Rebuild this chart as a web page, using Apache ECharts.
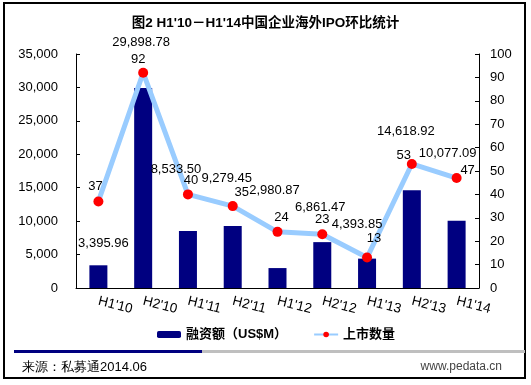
<!DOCTYPE html>
<html><head><meta charset="utf-8">
<script src="https://cdn.jsdelivr.net/npm/echarts@6/dist/echarts.min.js"></script>
<style>html,body{margin:0;padding:0;background:#fff}#c{width:531px;height:385px}</style>
</head><body><div id="c"></div>
<script>
const categories = ["H1'10","H2'10","H1'11","H2'11","H1'12","H2'12","H1'13","H2'13","H1'14"];
const amounts = [3395.96, 29898.78, 8533.50, 9279.45, 2980.87, 6861.47, 4393.85, 14618.92, 10077.09];
const counts = [37, 92, 40, 35, 24, 23, 13, 53, 47];
const seriesNames = ['融资额（US$M）', '上市数量'];
const titleText = "图2 H1'10－H1'14中国企业海外IPO环比统计";
const sourceText = '来源：私募通2014.06';
const siteText = 'www.pedata.cn';

// label placement tweaks (layout only)
const barLabelOffsets = [[5,-10],[-2,-34],[-12,-50],[-6,-36],[-3,-66],[-2,-23],[-10,-23],[-6,-47],[-9,-56]];
const lineLabelOffsets = [[-3,2],[-5,3],[3,3],[9,3],[4,2],[0,2],[7,-3],[-8,8],[11,9]];

const FONT = "'Liberation Sans', Arial, 'Noto Sans CJK SC', sans-serif";
const fmt = v => v.toLocaleString('en-US', {minimumFractionDigits: 2, maximumFractionDigits: 2});

const chart = echarts.init(document.getElementById('c'), null, {renderer: 'canvas'});
chart.setOption({
  animation: false,
  backgroundColor: '#fff',
  textStyle: {fontFamily: FONT},
  title: {
    text: titleText, left: 'center', top: 12,
    textStyle: {fontSize: 13.5, fontWeight: 'bold', color: '#000', fontFamily: FONT}
  },
  legend: {
    left: 152, top: 323, itemWidth: 24, itemHeight: 7, itemGap: 26,
    textStyle: {fontSize: 13, fontWeight: 'bold', color: '#000', fontFamily: FONT},
    data: seriesNames
  },
  grid: {left: 76, right: 52, top: 54, bottom: 97},
  xAxis: {
    type: 'category', data: categories,
    axisLine: {lineStyle: {color: '#000', width: 1}},
    axisTick: {inside: true, length: 4, lineStyle: {color: '#000'}},
    axisLabel: {interval: 0, rotate: -14, margin: 13, fontSize: 13.5, color: '#000', fontFamily: FONT}
  },
  yAxis: [{
    type: 'value', min: 0, max: 35000, interval: 5000,
    axisLine: {show: true, lineStyle: {color: '#000'}},
    axisTick: {show: true, inside: true, length: 4, lineStyle: {color: '#000'}},
    splitLine: {show: false},
    axisLabel: {margin: 18, fontSize: 13, color: '#000', fontFamily: FONT,
      formatter: v => v.toLocaleString('en-US')}
  }, {
    type: 'value', min: 0, max: 100, interval: 10,
    axisLine: {show: true, lineStyle: {color: '#000'}},
    axisTick: {show: true, inside: true, length: 4, lineStyle: {color: '#000'}},
    splitLine: {show: false},
    axisLabel: {margin: 11, fontSize: 13, color: '#000', fontFamily: FONT}
  }],
  series: [{
    name: seriesNames[0], type: 'bar', barWidth: 18, yAxisIndex: 0,
    itemStyle: {color: '#000080'},
    data: amounts,
    z: 2
  }, {
    name: seriesNames[1], type: 'line', yAxisIndex: 1,
    symbol: 'circle', symbolSize: 10,
    lineStyle: {color: '#99CCFF', width: 5},
    itemStyle: {color: '#FF0000'},
    data: counts.map((v, i) => ({value: v, label: {offset: lineLabelOffsets[i]}})),
    label: {show: true, position: 'top', distance: 5, fontSize: 13, color: '#000', fontFamily: FONT},
    z: 3
  }, {
    name: 'barLabels', type: 'bar', barWidth: 18, barGap: '-100%', yAxisIndex: 0,
    itemStyle: {color: 'rgba(0,0,0,0)'},
    silent: true,
    data: amounts.map((v, i) => ({value: v, label: {offset: barLabelOffsets[i]}})),
    label: {show: true, position: 'top', distance: 5, fontSize: 13, color: '#000', fontFamily: FONT,
      formatter: p => fmt(p.value)},
    z: 5
  }],
  graphic: [
    {type: 'rect', shape: {x: 4, y: 3, width: 521, height: 375}, style: {fill: 'none', stroke: '#000', lineWidth: 2}, silent: true},
    {type: 'rect', shape: {x: 202, y: 350, width: 323, height: 3}, style: {fill: '#BFBFBF'}, silent: true},
    {type: 'rect', shape: {x: 14, y: 350, width: 188, height: 3}, style: {fill: '#000080'}, silent: true},
    {type: 'text', x: 22, y: 367, style: {text: sourceText, fontSize: 13, fill: '#000', font: '13px ' + FONT, verticalAlign: 'middle', textAlign: 'left'}},
    {type: 'text', x: 502, y: 367, style: {text: siteText, fontSize: 12, fill: '#444', font: '12px ' + FONT, verticalAlign: 'middle', textAlign: 'right'}}
  ]
});
</script></body></html>
